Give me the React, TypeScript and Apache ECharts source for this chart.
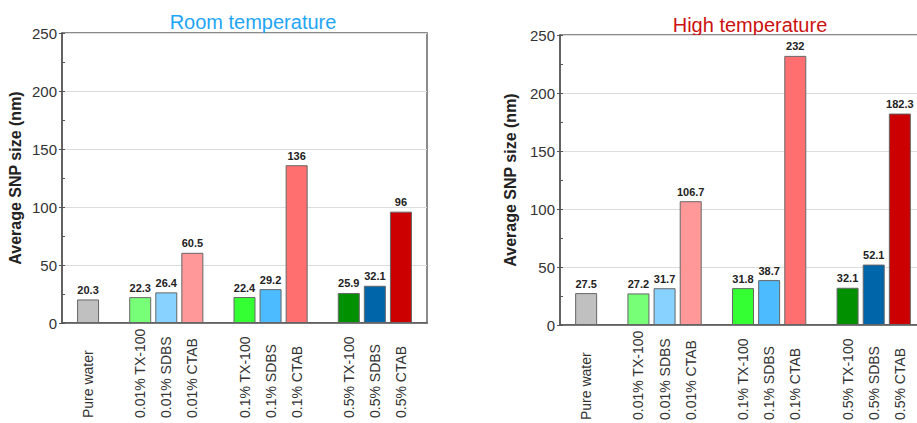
import React, { useEffect, useRef } from "react";
import * as echarts from "echarts";

const categories = [
  "Pure water",
  "0.01% TX-100", "0.01% SDBS", "0.01% CTAB",
  "0.1% TX-100", "0.1% SDBS", "0.1% CTAB",
  "0.5% TX-100", "0.5% SDBS", "0.5% CTAB",
];
const roomValues = [20.3, 22.3, 26.4, 60.5, 22.4, 29.2, 136, 25.9, 32.1, 96];
const highValues = [27.5, 27.2, 31.7, 106.7, 31.8, 38.7, 232, 32.1, 52.1, 182.3];
const barColors = [
  "#c0c0c0",
  "#77ff77", "#88d2ff", "#ff9999",
  "#33ff33", "#4dbbff", "#ff6f6f",
  "#009000", "#0066aa", "#cc0000",
];
// slot index of each category on the axis (gaps between groups)
const slots = [1, 3, 4, 5, 7, 8, 9, 11, 12, 13];
const slotCount = 15;
const yTicks = [0, 50, 100, 150, 200, 250];
const minorStep = 25;
const titles = ["Room temperature", "High temperature"];
const titleColors = ["#1ea5f5", "#cc1111"];
const yName = "Average SNP size (nm)";

const FONT = "'Liberation Sans', Arial, Helvetica, sans-serif";
const CHART_W = 940;

function paddedCats(): string[] {
  const arr: string[] = new Array(slotCount).fill("");
  slots.forEach((s, i) => (arr[s] = categories[i]));
  return arr;
}

function paddedData(values: number[]) {
  const arr: any[] = new Array(slotCount).fill(null);
  slots.forEach((s, i) => {
    arr[s] = { value: values[i], itemStyle: { color: barColors[i] } };
  });
  return arr;
}

export default function App() {
  const ref = useRef<HTMLDivElement>(null);
  useEffect(() => {
    if (!ref.current) return;
    const chart = echarts.init(ref.current, null, { renderer: "svg" });
    const grids = [
      { left: 62, top: 33, right: CHART_W - 427, bottom: 100 },
      { left: 560, top: 35, right: CHART_W - 926, bottom: 96 },
    ];
    const nameGaps = [39, 42];
    const labelMargins = [95, 95];
    const cats = paddedCats();
    const xAxis: any[] = [];
    const yAxis: any[] = [];
    const series: any[] = [];
    grids.forEach((g, i) => {
      xAxis.push({
        type: "category",
        gridIndex: i,
        data: cats,
        boundaryGap: false,
        axisLine: { lineStyle: { color: "#555", width: 1.5 } },
        axisTick: { show: false },
        axisLabel: {
          interval: 0,
          rotate: 90,
          align: "left",
          margin: labelMargins[i],
          fontSize: 14,
          fontFamily: FONT,
          color: "#333",
        },
        splitLine: { show: false },
      });
      yAxis.push({
        type: "value",
        gridIndex: i,
        min: yTicks[0],
        max: yTicks[yTicks.length - 1],
        interval: yTicks[1] - yTicks[0],
        name: yName,
        nameLocation: "middle",
        nameGap: nameGaps[i],
        nameTextStyle: { fontSize: 16, fontWeight: "bold", fontFamily: FONT, color: "#222" },
        axisLine: { show: true, lineStyle: { color: "#555", width: 1.5 } },
        axisTick: { show: true, length: 3, lineStyle: { color: "#555" } },
        axisLabel: { fontSize: 15, fontFamily: FONT, color: "#333", margin: 5 },
        splitLine: { show: true, lineStyle: { color: "#dcdcdc", width: 1 } },
      });
      series.push({
        type: "bar",
        xAxisIndex: i,
        yAxisIndex: i * 2,
        barWidth: 22,
        data: paddedData(i === 0 ? roomValues : highValues),
        itemStyle: { borderColor: "#666", borderWidth: 1 },
        label: {
          show: true,
          position: "top",
          distance: 4,
          fontSize: 11,
          fontWeight: "bold",
          fontFamily: FONT,
          color: "#222",
        },
      });
      // overlay axis for inward minor ticks
      yAxis.push({
        type: "value",
        gridIndex: i,
        position: "left",
        min: yTicks[0],
        max: yTicks[yTicks.length - 1],
        interval: minorStep,
        axisLine: { show: false },
        axisTick: { show: true, inside: true, length: 3, lineStyle: { color: "#555" } },
        axisLabel: { show: false },
        splitLine: { show: false },
      });
    });
    chart.setOption({
      animation: false,
      backgroundColor: "#fff",
      grid: grids.map((g) => ({ ...g, show: true, borderColor: "#666", borderWidth: 1.5, backgroundColor: "transparent" })),
      xAxis,
      yAxis,
      series,
      graphic: [
        {
          type: "text",
          x: 253,
          y: 22,
          style: {
            text: titles[0],
            fill: titleColors[0],
            font: `20px ${FONT}`,
            align: "center",
            verticalAlign: "middle",
          },
        },
        {
          type: "text",
          x: 750,
          y: 25,
          style: {
            text: titles[1],
            fill: titleColors[1],
            font: `20px ${FONT}`,
            align: "center",
            verticalAlign: "middle",
          },
        },
      ],
    });
    return () => chart.dispose();
  }, []);
  return (
    <div style={{ position: "absolute", left: 0, top: 0, width: 917, height: 423, overflow: "hidden" }}>
      <div ref={ref} style={{ width: CHART_W, height: 423 }} />
    </div>
  );
}
